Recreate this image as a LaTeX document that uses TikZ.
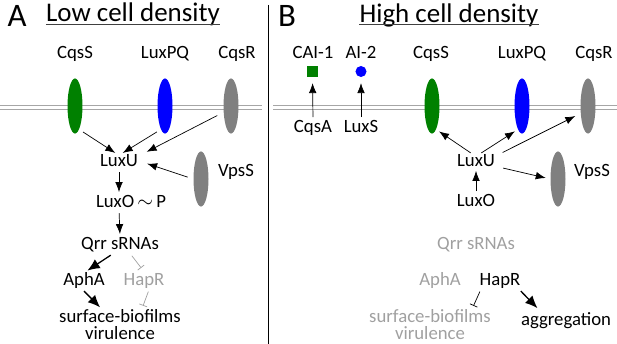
\documentclass[tikz,border=0pt]{standalone}
\usepackage{fontspec}
\setmainfont{Carlito}
\usetikzlibrary{arrows.meta,shapes.geometric}
\definecolor{recgreen}{RGB}{0,128,0}
\definecolor{recblue}{RGB}{0,0,255}
\definecolor{recgray}{RGB}{128,128,128}
\definecolor{offgray}{RGB}{160,160,160}
\begin{document}
\begin{tikzpicture}[x=0.03cm,y=-0.03cm,
    lbl/.style={font=\fontsize{16}{14.5}\selectfont, inner sep=1pt, anchor=base},
    offlbl/.style={lbl, text=offgray},
    panel/.style={font=\fontsize{28}{30}\selectfont, inner sep=0pt, anchor=base},
    title/.style={font=\fontsize{23}{25}\selectfont, inner sep=0pt, anchor=base},
    rcpt/.style={ellipse, minimum width=12.8pt, minimum height=47pt, inner sep=0pt},
    act/.style={-{Latex[length=8.5pt,width=6.5pt]}, line width=0.6pt},
    bigact/.style={-{Latex[length=10.5pt,width=9pt]}, line width=1.1pt},
    inh/.style={-{Bar[width=7pt]}, line width=0.6pt},
    mem/.style={recgray!70, double=white, double distance=2.4pt, line width=0.7pt}]
  \useasboundingbox (0,0) rectangle (617,344);

  % divider and membranes
  \draw[line width=0.8pt] (268,5) -- (268,344);
  \draw[mem] (0,107.5) -- (262,107.5);
  \draw[mem] (273,107.5) -- (617,107.5);

  % panel A: low cell density
  \node[panel] (labA) at (17,27) {A};
  \node[title] (titA) at (133,22) {Low cell density};
  \draw[black!75, line width=0.8pt] ([yshift=-1.8pt]titA.base west) -- ([yshift=-1.8pt]titA.base east);

  \node[lbl] (cqsSlabA) at (75,59) {CqsS};
  \node[lbl] (lpqlabA)  at (165,59) {LuxPQ};
  \node[lbl] (cqsRlabA) at (237,59) {CqsR};
  \node[rcpt, fill=recgreen] (cqsSA) at (75,106) {};
  \node[rcpt, fill=recblue]  (lpqA)  at (165,106) {};
  \node[rcpt, fill=recgray]  (cqsRA) at (231,106) {};
  \node[rcpt, fill=recgray]  (vpsSA) at (201,179) {};
  \node[lbl] (vpsSlabA) at (236,177) {VpsS};

  \node[lbl] (luxUA)  at (119,167) {LuxU};
  \node[lbl] (luxOPA) at (131,208) {LuxO\,$\sim$\,P};
  \node[lbl] (qrrA)   at (120,250) {Qrr sRNAs};
  \node[lbl] (aphAA)  at (84,285) {AphA};
  \node[offlbl] (hapRA) at (144,285) {HapR};
  \node[lbl, anchor=north, align=center, inner sep=0pt] (surfA) at (120,309) {surface-biofilms\\virulence};

  % phosphorelay at LCD
  \draw[act, shorten <=4pt, shorten >=1pt] (cqsSA.-80) -- (luxUA.110);
  \draw[act, shorten <=4pt, shorten >=1pt] (lpqA.-100) -- (luxUA.70);
  \draw[act, shorten <=6pt, shorten >=7pt] (cqsRA.-140) -- (luxUA.15);
  \draw[act, shorten <=5pt, shorten >=7pt] (vpsSA.west) -- (luxUA.east);
  \draw[act, shorten <=3pt, shorten >=2pt] (luxUA.south) -- (luxUA.south |- luxOPA.north);
  \draw[act, shorten <=3pt, shorten >=2pt] (luxUA.south |- luxOPA.south) -- (qrrA.north);
  \draw[bigact, shorten <=2pt] (qrrA.230) -- (aphAA.70);
  \draw[inh, offgray, shorten <=2pt, shorten >=4pt] (qrrA.-40) -- (hapRA.north);
  \draw[bigact, shorten <=2pt, shorten >=2pt] (aphAA.-100) -- (surfA.140);
  \draw[inh, offgray, shorten <=2pt, shorten >=3pt] (hapRA.-60) -- (surfA.35);

  % panel B: high cell density
  \node[panel] (labB) at (287,27) {B};
  \node[title] (titB) at (449,22.5) {High cell density};
  \draw[black!75, line width=0.8pt] ([yshift=-1.8pt]titB.base west) -- ([yshift=-1.8pt]titB.base east);

  \node[lbl] (cailab) at (313,59) {CAI-1};
  \node[lbl] (ai2lab) at (361,59) {AI-2};
  \node[fill=recgreen, minimum size=9.4pt, inner sep=0pt] (cai) at (312.5,71.5) {};
  \node[circle, fill=recblue, minimum size=9.4pt, inner sep=0pt] (ai2) at (361,71.5) {};
  \node[lbl] (cqsA) at (313,133) {CqsA};
  \node[lbl] (luxS) at (361,133) {LuxS};

  \node[lbl] (cqsSlabB) at (431,59) {CqsS};
  \node[lbl] (lpqlabB)  at (522,59) {LuxPQ};
  \node[lbl] (cqsRlabB) at (594,59) {CqsR};
  \node[rcpt, fill=recgreen] (cqsSB) at (432,106) {};
  \node[rcpt, fill=recblue]  (lpqB)  at (522,106) {};
  \node[rcpt, fill=recgray]  (cqsRB) at (588,106) {};
  \node[rcpt, fill=recgray]  (vpsSB) at (558,179) {};
  \node[lbl] (vpsSlabB) at (592,177) {VpsS};

  \node[lbl] (luxUB) at (476,167) {LuxU};
  \node[lbl] (luxOB) at (476,207) {LuxO};
  \node[offlbl] (qrrB)  at (476,250) {Qrr sRNAs};
  \node[offlbl] (aphAB) at (440,285) {AphA};
  \node[lbl] (hapRB) at (500,285) {HapR};
  \node[offlbl, anchor=north, align=center, inner sep=0pt] (surfB) at (430,309) {surface-biofilms\\virulence};
  \node[lbl] (aggB) at (566,325) {aggregation};

  % synthases
  \draw[act, shorten <=2pt, shorten >=5pt] (cqsA.north) -- (cai.south);
  \draw[act, shorten <=2pt, shorten >=5pt] (luxS.north) -- (ai2.south);

  % reverse flow at HCD
  \draw[act, shorten <=2pt, shorten >=2pt] (luxOB.north) -- (luxUB.south);
  \draw[act, shorten <=1pt, shorten >=3pt] (luxUB.120) -- (cqsSB.-80);
  \draw[act, shorten <=1pt, shorten >=3pt] (luxUB.60) -- (lpqB.-100);
  \draw[act, shorten <=6pt, shorten >=5pt] (luxUB.15) -- (cqsRB.-135);
  \draw[act, shorten <=6pt, shorten >=4pt] (luxUB.-15) -- (vpsSB.west);
  \draw[inh, shorten <=2pt, shorten >=3pt] (hapRB.-155) -- (surfB.20);
  \draw[bigact, shorten <=2pt, shorten >=3pt] (hapRB.-25) -- (aggB.160);
\end{tikzpicture}
\end{document}
